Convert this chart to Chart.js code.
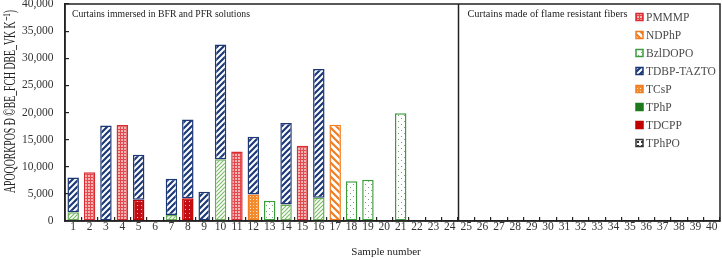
<!DOCTYPE html>
<html>
<head>
<meta charset="utf-8">
<script src="https://cdn.jsdelivr.net/npm/chart.js@4.4.1/dist/chart.umd.min.js"></script>
<style>
  html, body { margin: 0; padding: 0; background: #fff; }
  #wrap { width: 722px; height: 259px; }
</style>
</head>
<body>
<div id="wrap"><canvas id="chart"></canvas></div>
<script>
const samples = ['1','2','3','4','5','6','7','8','9','10','11','12','13','14','15','16','17','18','19','20',
                 '21','22','23','24','25','26','27','28','29','30','31','32','33','34','35','36','37','38','39','40'];

// values per sample 1..21 (samples 22-40 have nothing detected)
const tphp     = [1600, null, null, null, null, null, 1100, null, null, 11400, null, null, null, 3050, null, 4300, null, null, null, null, null];
const tdcpp    = [null, null, null, null, 3900, null, null, 4200, null, null, null, null, null, null, null, null, null, null, null, null, null];
const tcsp     = [null, null, null, null, null, null, null, null, null, null, null, 4900, null, null, null, null, null, null, null, null, null];
const tdbp     = [6400, null, 17600, null, 8300, null, 6700, 14500, 5400, 21150, null, 10650, null, 15000, null, 23700, null, null, null, null, null];
const pmmmp    = [null, 9000, null, 17700, null, null, null, null, null, null, 12800, null, null, null, 13850, null, null, null, null, null, null];
const ndphp    = [null, null, null, null, null, null, null, null, null, null, null, null, null, null, null, null, 17750, null, null, null, null];
const bzldopo  = [null, null, null, null, null, null, null, null, null, null, null, null, 3750, null, null, null, null, 7350, 7600, null, 19850];
const tphpo    = [];

const legendOrder = ['PMMMP', 'NDPhP', 'BzlDOPO', 'TDBP-TAZTO', 'TCsP', 'TPhP', 'TDCPP', 'TPhPO'];
const yTicks = { min: 0, max: 40000, step: 5000 };
const panelLeft = 'Curtains immersed in BFR and PFR solutions';
const panelRight = 'Curtains made of flame resistant fibers';
const yTitle = 'APOQORKPOS Ð ©BE_FCH DBE_VK K\u207B\u00B9)';
const xTitle = 'Sample number';

const SERIF = '"Liberation Serif", "DejaVu Serif", serif';

// small canvas patterns for the bar fills
function pattern(size, bg, draw) {
  const c = document.createElement('canvas');
  c.width = c.height = size;
  const g = c.getContext('2d');
  g.fillStyle = bg;
  g.fillRect(0, 0, size, size);
  draw(g, size);
  return g.createPattern(c, 'repeat');
}
function slash(color, w) {
  return (g, s) => {
    g.strokeStyle = color; g.lineWidth = w; g.lineCap = 'square';
    g.beginPath();
    g.moveTo(-1, s + 1); g.lineTo(s + 1, -1);
    g.moveTo(-1, 1); g.lineTo(1, -1);
    g.moveTo(s - 1, s + 1); g.lineTo(s + 1, s - 1);
    g.stroke();
  };
}
function backslash(color, w) {
  return (g, s) => {
    g.strokeStyle = color; g.lineWidth = w; g.lineCap = 'square';
    g.beginPath();
    g.moveTo(-1, -1); g.lineTo(s + 1, s + 1);
    g.moveTo(s - 1, -1); g.lineTo(s + 1, 1);
    g.moveTo(-1, s - 1); g.lineTo(1, s + 1);
    g.stroke();
  };
}
function dots(color, pts) {
  return (g) => { g.fillStyle = color; pts.forEach(p => g.fillRect(p[0], p[1], 1, 1)); };
}

const fills = {
  'PMMMP': pattern(3, '#f6b3b3', (g) => { g.fillStyle = '#e24a4e'; g.fillRect(0, 0, 3, 1); g.fillRect(0, 0, 1, 3); }),
  'NDPhP': pattern(7, '#ffffff', backslash('#f07d22', 2.2)),
  'BzlDOPO': pattern(6, '#ffffff', dots('#7f9f7f', [[2, 1], [5, 4]])),
  'TDBP-TAZTO': pattern(6, '#ffffff', slash('#1d3a78', 2.2)),
  'TCsP': pattern(3, '#f28a2e', dots('#fde3c8', [[1, 1]])),
  'TPhP': pattern(4, '#ffffff', slash('#7cbd66', 1.2)),
  'TDCPP': pattern(4, '#c40d12', dots('#f7c9c9', [[1, 1]])),
  'TPhPO': pattern(4, '#ffffff', dots('#333333', [[1, 1], [2, 1], [1, 2], [2, 2]]))
};
const borders = {
  'PMMMP': '#d92b32', 'NDPhP': '#f07d22', 'BzlDOPO': '#3d9b3d', 'TDBP-TAZTO': '#1b3775',
  'TCsP': '#f07d22', 'TPhP': '#6aab58', 'TDCPP': '#c00000', 'TPhPO': '#333333'
};
// legend swatches that read as solid in the original key
const swatchFill = { 'TPhP': '#1f7a1f', 'TDCPP': '#c00000' };
const swatchBorder = { 'TPhP': '#1f7a1f' };

// stacking order: bottom parts first
const series = [
  ['TPhP', tphp], ['TDCPP', tdcpp], ['TCsP', tcsp], ['TDBP-TAZTO', tdbp],
  ['PMMMP', pmmmp], ['NDPhP', ndphp], ['BzlDOPO', bzldopo], ['TPhPO', tphpo]
];

const datasets = series.map(([name, values]) => ({
  label: name,
  data: values,
  backgroundColor: fills[name],
  borderColor: borders[name],
  borderWidth: 1.5,
  borderSkipped: false,
  stack: 'all',
  categoryPercentage: 1.0,
  barPercentage: 0.7
}));

function squeezedText(ctx, text, x, y, width) {
  const w = ctx.measureText(text).width;
  ctx.save();
  ctx.translate(x, y);
  ctx.scale(Math.min(1, width / w), 1);
  ctx.fillText(text, 0, 0);
  ctx.restore();
}

const decorations = {
  id: 'decorations',
  afterDraw(chart) {
    const ctx = chart.ctx;
    const area = chart.chartArea;
    const x = chart.scales.x;
    ctx.save();

    // frame
    ctx.strokeStyle = '#222';
    ctx.lineWidth = 1.5;
    ctx.strokeRect(area.left, area.top, area.right - area.left, area.bottom - area.top);

    // divider between the two groups of samples
    const xd = Math.round((x.getPixelForValue(23) + x.getPixelForValue(24)) / 2) + 0.5;
    ctx.beginPath();
    ctx.moveTo(xd, area.top);
    ctx.lineTo(xd, area.bottom);
    ctx.stroke();

    // panel captions
    ctx.fillStyle = '#222';
    ctx.font = '11px ' + SERIF;
    ctx.textBaseline = 'middle';
    ctx.textAlign = 'left';
    squeezedText(ctx, panelLeft, area.left + 7, area.top + 10, 178);
    squeezedText(ctx, panelRight, xd + 9, area.top + 10, 160);

    // legend
    ctx.font = '11.5px ' + SERIF;
    legendOrder.forEach((name, i) => {
      const y = area.top + 13 + i * 18;
      const bx = area.right - 84;
      ctx.fillStyle = swatchFill[name] || fills[name];
      ctx.fillRect(bx, y - 3.5, 7, 7);
      ctx.strokeStyle = swatchBorder[name] || borders[name];
      ctx.lineWidth = 1.5;
      ctx.strokeRect(bx, y - 3.5, 7, 7);
      ctx.fillStyle = '#4a4a4a';
      ctx.fillText(name, bx + 10, y + 0.5);
    });

    // y axis title, squeezed like the original
    ctx.save();
    ctx.translate(11, 102);
    ctx.rotate(-Math.PI / 2);
    ctx.font = '17px ' + SERIF;
    ctx.textAlign = 'left';
    ctx.fillStyle = '#222';
    squeezedText(ctx, yTitle, -91, 0, 183);
    ctx.restore();

    // x axis title
    ctx.font = '11px ' + SERIF;
    ctx.textAlign = 'center';
    ctx.fillStyle = '#222';
    ctx.fillText(xTitle, 386, 252);

    ctx.restore();
  }
};

new Chart(document.getElementById('chart').getContext('2d'), {
  type: 'bar',
  data: { labels: samples, datasets: datasets },
  plugins: [decorations],
  options: {
    responsive: true,
    maintainAspectRatio: false,
    animation: false,
    layout: { padding: { left: 0, right: 2, top: 4, bottom: 0 } },
    plugins: {
      legend: { display: false },
      tooltip: { enabled: false }
    },
    scales: {
      x: {
        stacked: true,
        grid: { display: true, drawOnChartArea: false, drawTicks: true, tickLength: -4, color: '#222', lineWidth: 1.2 },
        border: { display: true, color: '#222', width: 1.5 },
        ticks: { autoSkip: false, maxRotation: 0, padding: 3.5, color: '#333', font: { family: SERIF, size: 11.5 } },
        afterFit(scale) { scale.height = 38; }
      },
      y: {
        stacked: true,
        min: yTicks.min,
        max: yTicks.max,
        grid: { display: true, drawOnChartArea: false, drawTicks: true, tickLength: -4, color: '#222', lineWidth: 1.2 },
        border: { display: true, color: '#222', width: 1.5 },
        ticks: {
          stepSize: yTicks.step,
          padding: 15.5,
          color: '#333',
          font: { family: SERIF, size: 11.5 },
          callback: (v) => v.toLocaleString('en-US')
        },
        afterFit(scale) { scale.width = 65; scale.paddingTop = 0; scale.paddingBottom = 0; }
      }
    }
  }
});
</script>
</body>
</html>
